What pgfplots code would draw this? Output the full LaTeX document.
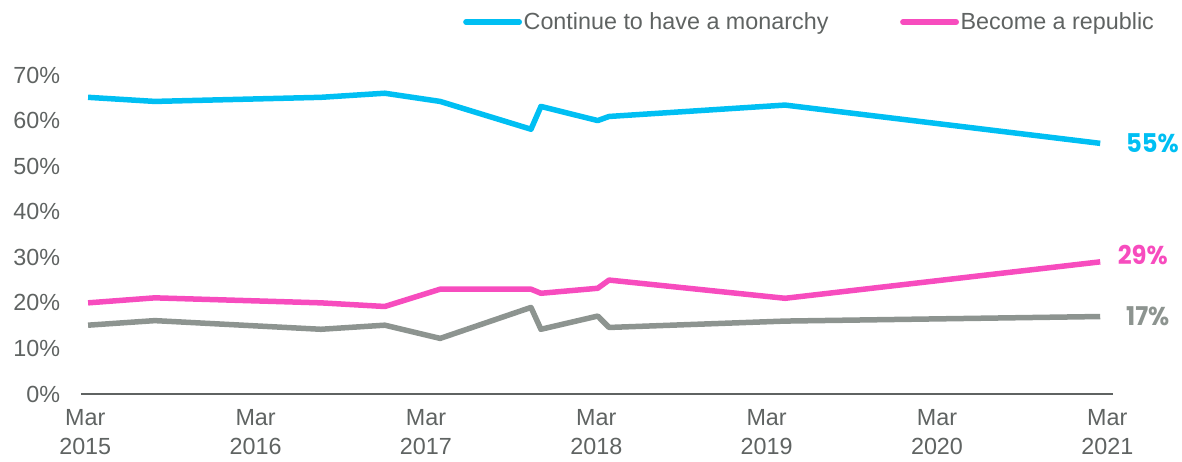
\documentclass[border=0pt]{standalone}
\usepackage{pgfplots}
\pgfplotsset{compat=1.18}
\usepackage{fontspec}
\setmainfont{Liberation Sans}
\newfontfamily\endfont[FakeStretch=0.94]{Poppins}
\definecolor{cblue}{RGB}{0,191,243}
\definecolor{cpink}{RGB}{247,76,190}
\definecolor{cgrey}{RGB}{141,148,144}
\definecolor{ctext}{RGB}{95,99,98}
\begin{document}
\begin{tikzpicture}
\useasboundingbox (-48.6pt,-40.8pt) rectangle (660.6pt,236.4pt);
\begin{axis}[
  at={(0pt,0pt)}, anchor=south west,
  scale only axis, width=619.2pt, height=191.4pt,
  xmin=-0.3, xmax=72.4, ymin=0, ymax=70,
  axis x line*=bottom, axis y line*=left,
  y axis line style={draw=none},
  x axis line style={ctext, line width=1.2pt, -},
  major tick length=0pt,
  xtick={0,12,24,36,48,60,72},
  xticklabels={{Mar\\2015},{Mar\\2016},{Mar\\2017},{Mar\\2018},{Mar\\2019},{Mar\\2020},{Mar\\2021}},
  xticklabel style={align=center, font=\fontsize{14}{17.4}\selectfont, text=ctext, yshift=-6pt},
  ytick={0,10,20,30,40,50,60,70},
  yticklabels={0\%,10\%,20\%,30\%,40\%,50\%,60\%,70\%},
  yticklabel style={font=\fontsize{14}{16}\selectfont, text=ctext, xshift=-9pt},
  clip=false,
  legend columns=2,
  legend style={draw=none, fill=none, at={(0.370,1.166)}, anchor=west,
    font=\fontsize{14}{16}\selectfont, text=ctext, inner sep=0pt,
    /tikz/every even column/.append style={column sep=42pt},
    nodes={inner sep=1pt}},
  legend image code/.code={\draw[#1, line cap=round] (0pt,0pt) -- (32pt,0pt);},
]
\addplot[cblue, line width=3.3pt, line join=round] coordinates {
(0.2,65.1) (4.9,64.2) (16.6,65.1) (21.1,66.0) (25.0,64.2) (31.4,58.1) (32.1,63.1) (36.1,60.0) (36.9,60.9) (49.3,63.4) (71.5,55.0)};
\addlegendentry{Continue to have a monarchy}
\addplot[cpink, line width=3.3pt, line join=round] coordinates {
(0.2,20.0) (4.9,21.1) (16.6,20.0) (21.1,19.2) (25.0,23.0) (31.4,23.0) (32.1,22.1) (36.1,23.2) (36.9,25.0) (49.3,21.0) (71.5,29.0)};
\addlegendentry{Become a republic}
\addplot[cgrey, line width=3.3pt, line join=round, forget plot] coordinates {
(0.2,15.1) (4.9,16.1) (16.6,14.2) (21.1,15.1) (25.0,12.2) (31.4,19.0) (32.1,14.2) (36.1,17.1) (36.9,14.6) (49.3,16.0) (71.5,17.0)};
\node[anchor=west, text=cblue, font=\endfont\bfseries\fontsize{15.5}{17}\selectfont, xshift=12pt] at (axis cs:71.5,55) {55\%};
\node[anchor=west, text=cpink, font=\endfont\bfseries\fontsize{15.5}{17}\selectfont, xshift=7pt, yshift=4pt] at (axis cs:71.5,29) {29\%};
\node[anchor=west, text=cgrey, font=\endfont\bfseries\fontsize{15.5}{17}\selectfont, xshift=12pt] at (axis cs:71.5,17) {17\%};
\end{axis}
\end{tikzpicture}
\end{document}
